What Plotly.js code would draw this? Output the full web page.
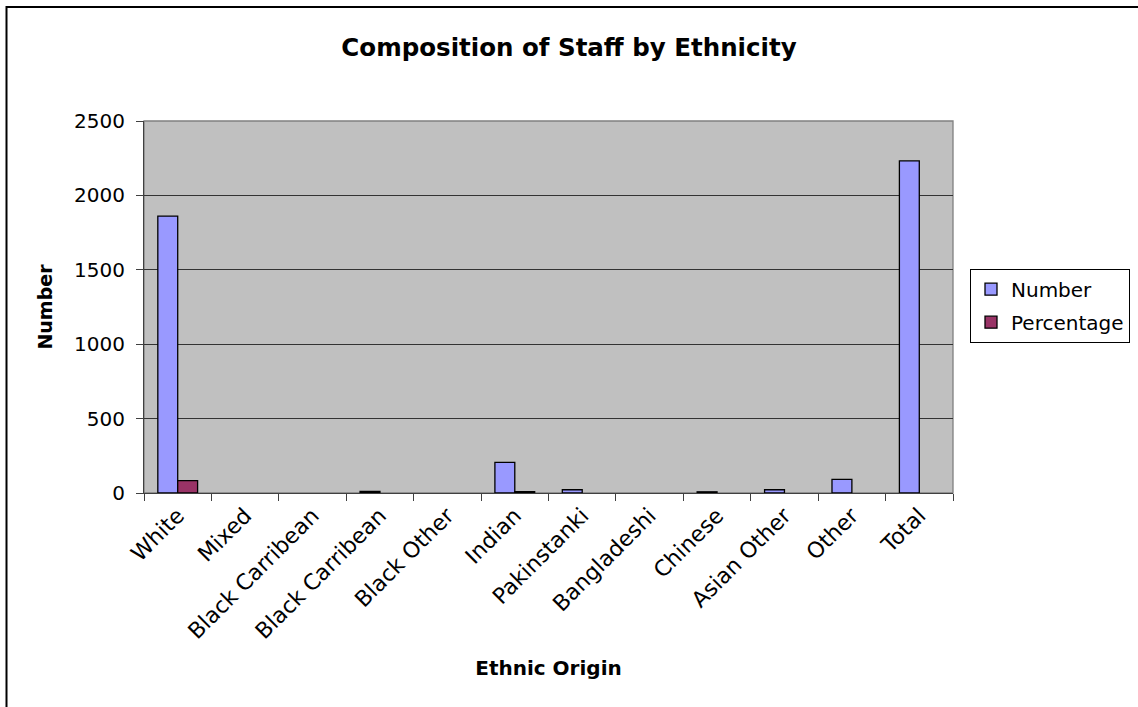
<!DOCTYPE html>
<html>
<head>
<meta charset="utf-8">
<script src="https://cdn.plot.ly/plotly-3.0.1.min.js"></script>
<style>
html,body{margin:0;padding:0;background:#fff;}
#chart{width:1138px;height:707px;}
</style>
</head>
<body>
<div id="chart"></div>
<script>
var categories = ["White","Mixed","Black Carribean","Black Carribean","Black Other","Indian","Pakinstanki","Bangladeshi","Chinese","Asian Other","Other","Total"];
var numberValues = [1861,0,0,10,0,206,22,0,8,22,92,2232];
var percentageValues = [83.4,0,0,0,0,9.2,0,0,0,0,0,0];
var yTickValues = [0,500,1000,1500,2000,2500];

var ids = categories.map(function(c,i){return "c"+i;});
function blankZero(v){return v === 0 ? null : v;}
var F = "'DejaVu Sans', sans-serif";

var traces = [
  {type:"bar", name:"Number", legendgroup:"n", x:ids, y:numberValues.map(blankZero),
   marker:{color:"#9999FF", line:{color:"#000000", width:1.3}}},
  {type:"bar", name:"Percentage", legendgroup:"p", x:ids, y:percentageValues.map(blankZero),
   marker:{color:"#993366", line:{color:"#000000", width:1.3}}}
];

var layout = {
  width:1138, height:707,
  margin:{l:144, r:185, t:121, b:214, autoexpand:false},
  paper_bgcolor:"#ffffff",
  plot_bgcolor:"#C0C0C0",
  barmode:"group", bargap:0.41, bargroupgap:0,
  font:{family:F, color:"#000000", size:20},
  title:{text:"<b>Composition of Staff by Ethnicity</b>", x:0.5, xref:"container", xanchor:"center",
         y:1-47/707, yref:"container", yanchor:"middle", font:{family:F, size:24.5, color:"#000"}},
  xaxis:{type:"category", tickvals:ids, ticktext:categories, tickson:"boundaries",
         tickangle:-45, ticks:"outside", ticklen:7, tickcolor:"#404040", tickwidth:1,
         showline:true, linecolor:"#404040", linewidth:1, showgrid:false,
         tickfont:{family:F, size:22},
         title:{text:"<b>Ethnic Origin</b>", font:{family:F, size:20}, standoff:18}},
  yaxis:{range:[0,2500], tickvals:yTickValues, ticks:"outside", ticklen:7, tickcolor:"#404040",
         ticklabelstandoff:7,
         showline:true, linecolor:"#404040", linewidth:1, showgrid:true, gridcolor:"#333333", gridwidth:1,
         zeroline:false, tickfont:{family:F, size:20},
         title:{text:"<b>Number</b>", font:{family:F, size:19}, standoff:16}},
  legend:{x:(970-144)/809, xanchor:"left", y:0.603, yanchor:"top", bordercolor:"#000000", borderwidth:1,
          bgcolor:"#ffffff", font:{family:F, size:20}, tracegroupgap:4, itemwidth:30},
  shapes:[
    {type:"rect", xref:"paper", yref:"paper", x0:0, x1:1, y0:0, y1:1,
     line:{color:"#808080", width:1.3}, fillcolor:"rgba(0,0,0,0)", layer:"below"},
    {type:"rect", xref:"paper", yref:"paper", x0:(6.5-144)/809, x1:(1160-144)/809, y0:(493-730)/372, y1:(493-7)/372,
     line:{color:"#000000", width:2}, fillcolor:"rgba(0,0,0,0)"}
  ],
  showlegend:true
};

Plotly.newPlot("chart", traces, layout, {displayModeBar:false, staticPlot:true});
</script>
</body>
</html>
